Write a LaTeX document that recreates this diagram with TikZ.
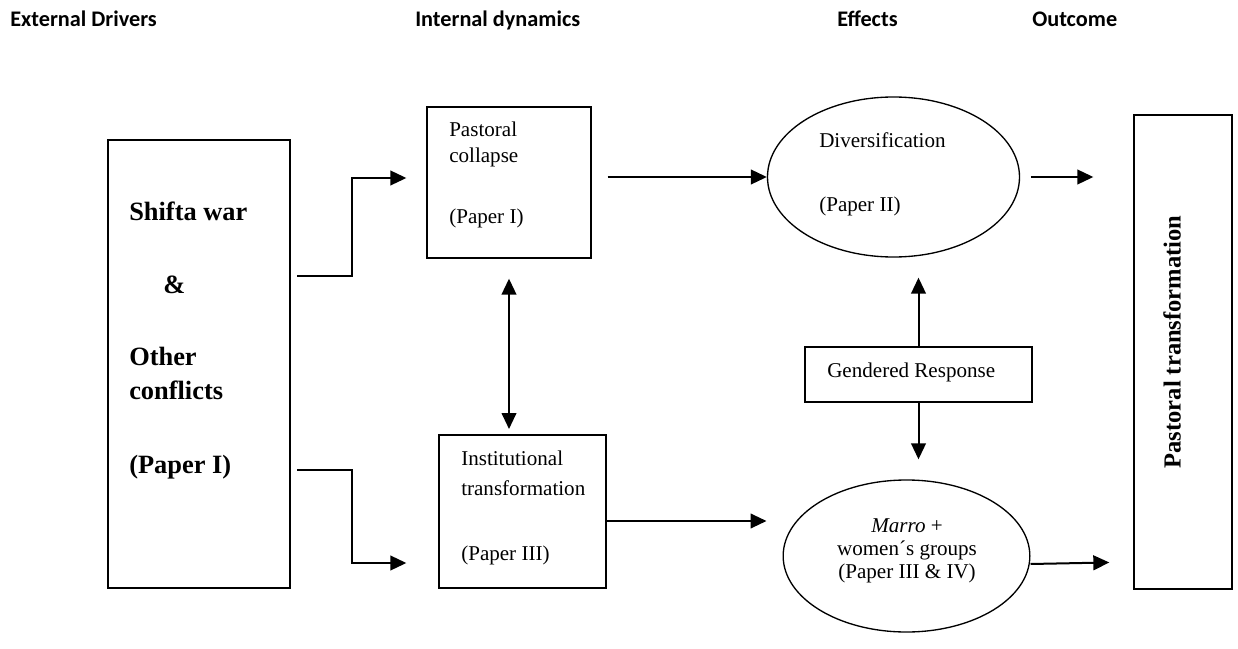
\documentclass[tikz,border=0pt]{standalone}
\usepackage{fontspec}
\setmainfont{Liberation Serif}
\newfontfamily\hdfont{Carlito}
\usetikzlibrary{arrows.meta,shapes.geometric,fit,positioning}

\begin{document}
\begin{tikzpicture}[x=0.75pt,y=-0.75pt,
    box/.style={draw, line width=1pt, inner sep=0pt},
    oval/.style={draw, ellipse, line width=1pt, inner sep=0pt},
    arr/.style={-{Triangle[length=12pt,width=11pt]}, line width=1.5pt},
    darr/.style={{Triangle[length=12pt,width=11pt]}-{Triangle[length=12pt,width=11pt]}, line width=1.5pt},
    txt/.style={anchor=base west, inner sep=0pt, font=\fontsize{15.8}{19}\selectfont},
    ctxt/.style={txt, anchor=base},
    btxt/.style={txt, font=\fontsize{19.8}{24}\selectfont\bfseries},
    head/.style={anchor=base west, inner sep=0pt, font=\hdfont\fontsize{16.7}{20}\selectfont\bfseries}]
\useasboundingbox (0,0) rectangle (1238,649);

% column heads
\node[head] (h1) at (10,27) {External Drivers};
\node[head] (h2) at (415,27) {Internal dynamics};
\node[head] (h3) at (837,27) {Effects};
\node[head] (h4) at (1032,27) {Outcome};

% boxes and ovals
\node[box, fit={(108,140) (290,588)}] (drv) {};
\node[box, fit={(427,107) (591,258)}] (pc) {};
\node[box, fit={(439,435) (606,588)}] (inst) {};
\node[box, fit={(805,347) (1032,402)}] (gr) {};
\node[box, fit={(1134,115) (1232,589)}] (out) {};
\node[oval, minimum width=189pt, minimum height=120pt] (div) at (893.5,177) {};
\node[oval, minimum width=185pt, minimum height=114pt] (low) at (906.5,556) {};

% texts
\foreach \t/\x/\y [count=\i] in {Shifta war/129/220, \&/163/293, Other/129/365,
    conflicts/129/399, (Paper I)/129/473}
  \node[btxt] (drv\i) at (\x,\y) {\t};
\foreach \t/\y [count=\i] in {Pastoral/137, collapse/162, (Paper I)/223}
  \node[txt] (pc\i) at (449,\y) {\t};
\foreach \t/\y [count=\i] in {Institutional/465, transformation/495, (Paper III)/560}
  \node[txt] (inst\i) at (461,\y) {\t};
\node[txt] (div1) at (819,148) {Diversification};
\node[txt] (div2) at (819,211) {(Paper II)};
\node[txt] (gr1) at (827,377) {Gendered Response};
\node[ctxt] (low1) at (907,532) {\textit{Marro} +};
\node[ctxt] (low2) at (907,555) {women´s groups};
\node[ctxt] (low3) at (907,578) {(Paper III \& IV)};
\node[rotate=90, inner sep=0pt, font=\fontsize{18.4}{22}\selectfont\bfseries] (out1) at (1172,342) {Pastoral transformation};

% connectors
\draw[arr, shorten <=5pt, shorten >=15pt] (drv.east |- 0,276) -| (352,178) -- (pc.west |- 0,178);
\draw[arr, shorten <=5pt, shorten >=24pt] (drv.east |- 0,470) -| (352,563) -- (inst.west |- 0,563);
\draw[arr, shorten <=12pt] (pc.east |- div.west) -- (div.west);
\draw[arr, shorten <=8pt, shorten >=30pt] (div.east) -- (out.west |- div.east);
\draw[darr, shorten <=15pt, shorten >=4pt] (pc.south) -- (pc.south |- inst.north);
\draw[arr, shorten >=12pt] (inst.east |- 0,521) -- (low.west |- 0,521);
\draw[arr, shorten >=15pt] (gr.north) -- (gr.north |- div.south);
\draw[arr, shorten >=15pt] (gr.south) -- (gr.south |- low.north);
\draw[arr, shorten >=18pt] (low.east |- 0,564) -- (out.west |- 0,562);
\end{tikzpicture}
\end{document}
